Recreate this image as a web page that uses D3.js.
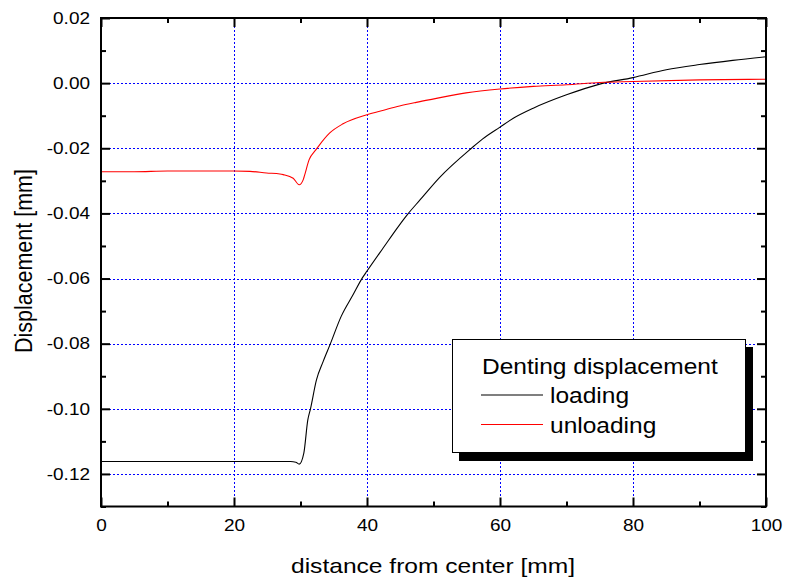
<!DOCTYPE html>
<html>
<head>
<meta charset="utf-8">
<script src="https://cdn.jsdelivr.net/npm/d3@7"></script>
<style>
  body { margin: 0; background: #fff; }
  text { font-family: "Liberation Sans", Arial, sans-serif; }
</style>
</head>
<body>
<div class="svg-container"></div>
<script>
// loading curve: distance [mm], displacement [mm]
var loadingX = [0, 10, 20, 28.5, 29.3, 29.8, 30.5, 31.1, 31.5, 32.4, 33.4, 34.5, 36.1, 37.9, 39.3, 40, 42.4, 44.9, 46.1, 48, 50.9, 55.7, 57.4, 60, 62, 65, 70, 75, 80, 85, 90, 95, 100];
var loadingY = [-0.1162, -0.1162, -0.1162, -0.1162, -0.1164, -0.1170, -0.1136, -0.1034, -0.1000, -0.0911, -0.0855, -0.0800, -0.0717, -0.0650, -0.0598, -0.0577, -0.0507, -0.0435, -0.0403, -0.0358, -0.0290, -0.0200, -0.0171, -0.0135, -0.0108, -0.0077, -0.0036, -0.0003, 0.0017, 0.0041, 0.0057, 0.0070, 0.0081];

// unloading curve
var unloadingX = [0, 5, 10, 19.9, 22.4, 24.9, 26.9, 27.4, 28.9, 29.8, 30.4, 30.6, 31.3, 32.3, 32.7, 34.4, 36.4, 40, 42.5, 44.9, 47.4, 49.9, 54.9, 60, 65, 70, 75, 80, 90, 100];
var unloadingY = [-0.0272, -0.0272, -0.0270, -0.0270, -0.0271, -0.0276, -0.0279, -0.0281, -0.0292, -0.0312, -0.0297, -0.0284, -0.0235, -0.0205, -0.0194, -0.0153, -0.0125, -0.0097, -0.0083, -0.0070, -0.0059, -0.0049, -0.0030, -0.0018, -0.0010, -0.0005, 0.0002, 0.0005, 0.0010, 0.0012];

var xTicks = [0, 20, 40, 60, 80, 100];
var xMinorTicks = [10, 30, 50, 70, 90];
var yTicks = [0.02, 0.00, -0.02, -0.04, -0.06, -0.08, -0.10, -0.12];
var yMinorTicks = [0.01, -0.01, -0.03, -0.05, -0.07, -0.09, -0.11, -0.13];

var seriesNames = ["loading", "unloading"];
var seriesColors = ["#000000", "#ff0000"];

// the original picture is a bit wider than tall, so glyphs get stretched
function stretch(sel, k) {
    sel.each(function() {
        var w = this.getComputedTextLength();
        d3.select(this)
            .attr("textLength", w * k)
            .attr("lengthAdjust", "spacingAndGlyphs");
    });
}

function render() {
    var width = 785, height = 580;
    var pLeft = 101, pRight = 766, pTop = 18, pBottom = 506.5;
    var k = 1.15;

    var svg = d3.select(".svg-container").append("svg")
        .attr("width", width)
        .attr("height", height);

    var x = d3.scaleLinear().domain([0, 100]).range([pLeft, pRight]);
    var y = d3.scaleLinear().domain([-0.13, 0.02]).range([pBottom, pTop]);

    // grid
    var grid = svg.append("g")
        .attr("stroke", "#0000ff")
        .attr("stroke-width", 1)
        .attr("stroke-dasharray", "2,2");
    grid.selectAll(".gx").data(xTicks.slice(1, -1)).enter().append("line")
        .attr("x1", d => Math.round(x(d)) + 0.5).attr("x2", d => Math.round(x(d)) + 0.5)
        .attr("y1", pTop).attr("y2", pBottom);
    grid.selectAll(".gy").data(yTicks.slice(1)).enter().append("line")
        .attr("y1", d => Math.round(y(d)) + 0.5).attr("y2", d => Math.round(y(d)) + 0.5)
        .attr("x1", pLeft).attr("x2", pRight);

    // curves
    var line = d3.line()
        .x(d => x(d[0]))
        .y(d => y(d[1]))
        .curve(d3.curveMonotoneX);

    var series = [
        d3.zip(loadingX, loadingY),
        d3.zip(unloadingX, unloadingY)
    ];
    svg.selectAll(".curve").data(series).enter().append("path")
        .attr("class", "curve")
        .attr("d", line)
        .attr("fill", "none")
        .attr("stroke", (d, i) => seriesColors[i])
        .attr("stroke-width", 1.1);

    // axes
    function styleAxis(g) {
        g.attr("font-size", null).attr("font-family", null);
        g.select(".domain").remove();
        g.selectAll(".tick line").attr("stroke", "#000").attr("stroke-width", 2);
        g.selectAll(".tick text")
            .attr("fill", "#000")
            .style("font-size", "16.5px")
            .call(stretch, k);
    }

    svg.append("g")
        .attr("transform", "translate(0," + pBottom + ")")
        .call(d3.axisBottom(x).tickValues(xTicks).tickSizeInner(-9).tickSizeOuter(0).tickPadding(13).tickFormat(d3.format("d")))
        .call(styleAxis);
    svg.append("g")
        .attr("transform", "translate(0," + pBottom + ")")
        .call(d3.axisBottom(x).tickValues(xMinorTicks).tickSizeInner(-5).tickSizeOuter(0).tickFormat(""))
        .call(styleAxis);
    svg.append("g")
        .attr("transform", "translate(0," + pTop + ")")
        .call(d3.axisTop(x).tickValues(xTicks).tickSizeInner(-9).tickSizeOuter(0).tickFormat(""))
        .call(styleAxis);
    svg.append("g")
        .attr("transform", "translate(0," + pTop + ")")
        .call(d3.axisTop(x).tickValues(xMinorTicks).tickSizeInner(-5).tickSizeOuter(0).tickFormat(""))
        .call(styleAxis);

    svg.append("g")
        .attr("transform", "translate(" + pLeft + ",0)")
        .call(d3.axisLeft(y).tickValues(yTicks).tickSizeInner(-9).tickSizeOuter(0).tickPadding(11)
            .tickFormat(d => d.toFixed(2)))
        .call(styleAxis);
    svg.append("g")
        .attr("transform", "translate(" + pLeft + ",0)")
        .call(d3.axisLeft(y).tickValues(yMinorTicks).tickSizeInner(-5).tickSizeOuter(0).tickFormat(""))
        .call(styleAxis);
    svg.append("g")
        .attr("transform", "translate(" + pRight + ",0)")
        .call(d3.axisRight(y).tickValues(yTicks).tickSizeInner(-9).tickSizeOuter(0).tickFormat(""))
        .call(styleAxis);
    svg.append("g")
        .attr("transform", "translate(" + pRight + ",0)")
        .call(d3.axisRight(y).tickValues(yMinorTicks).tickSizeInner(-5).tickSizeOuter(0).tickFormat(""))
        .call(styleAxis);

    // frame
    svg.append("rect")
        .attr("x", pLeft).attr("y", pTop)
        .attr("width", pRight - pLeft).attr("height", pBottom - pTop)
        .attr("fill", "none")
        .attr("stroke", "#000")
        .attr("stroke-width", 2);

    // axis titles
    svg.append("text")
        .attr("x", 433)
        .attr("y", 573)
        .attr("text-anchor", "middle")
        .style("font-size", "21px")
        .text("distance from center [mm]")
        .call(stretch, 1.17);

    svg.append("text")
        .attr("transform", "translate(32,261) rotate(-90) scale(1," + k + ")")
        .attr("text-anchor", "middle")
        .style("font-size", "21.5px")
        .text("Displacement [mm]");

    // legend
    var lg = svg.append("g");
    lg.append("rect")
        .attr("x", 459).attr("y", 347)
        .attr("width", 294).attr("height", 114)
        .attr("fill", "#000");
    lg.append("rect")
        .attr("x", 452.5).attr("y", 339.5)
        .attr("width", 293).attr("height", 113)
        .attr("fill", "#fff")
        .attr("stroke", "#000")
        .attr("stroke-width", 1);
    lg.append("text")
        .attr("x", 482).attr("y", 374)
        .style("font-size", "21.5px")
        .text("Denting displacement")
        .call(stretch, 1.14);
    seriesNames.forEach(function(name, i) {
        var yy = 395 + i * 29.5;
        lg.append("line")
            .attr("x1", 481).attr("x2", 543)
            .attr("y1", yy).attr("y2", yy)
            .attr("stroke", seriesColors[i])
            .attr("stroke-width", 1.1);
        lg.append("text")
            .attr("x", 550).attr("y", yy + 8)
            .style("font-size", "21.5px")
            .text(name)
            .call(stretch, 1.14);
    });
}

render();
</script>
</body>
</html>
